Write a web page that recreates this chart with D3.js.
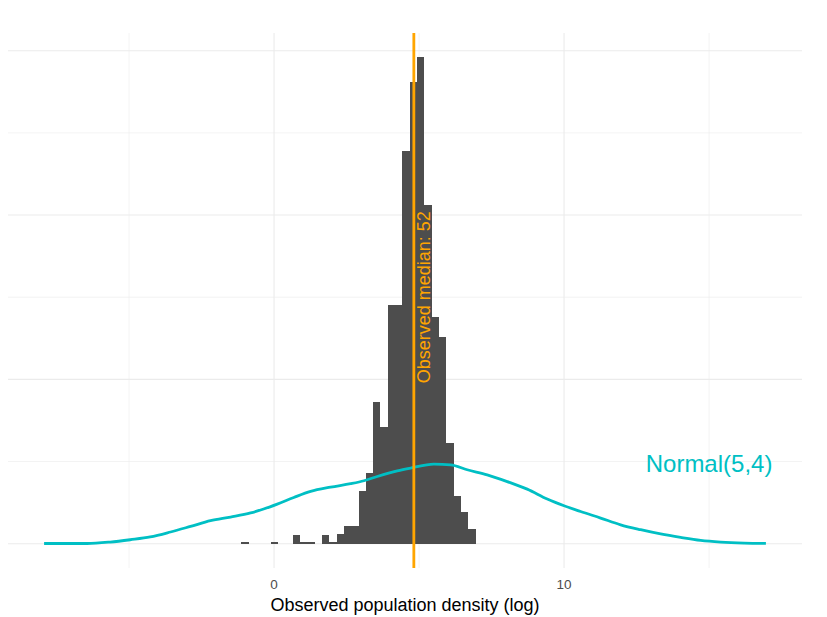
<!DOCTYPE html>
<html>
<head>
<meta charset="utf-8">
<script src="https://cdn.jsdelivr.net/npm/d3@7"></script>
<style>
  html, body { margin: 0; padding: 0; background: #fff; }
  text { font-family: "Liberation Sans", Arial, sans-serif; }
</style>
</head>
<body>
<svg id="chart" width="827" height="617"></svg>
<script>
// ---- data ----
const binStart = -1.125;
const binWidth = 0.2523;
const binCounts = [1, 0, 0, 0, 1, 0, 0, 5, 1, 1, 0, 5, 1, 6, 11, 11,
                   32, 43, 86, 71, 145, 145, 239, 281, 296, 206, 138, 126, 61, 29, 19, 9];
const curveX = [-7.93, -6.45, -5.65, -4.96, -4.27, -3.57, -2.88, -2.19, -1.50, -0.81, -0.36, 0.11,
                0.68, 1.26, 1.95, 2.64, 3.10, 3.56, 4.25, 4.71, 5.51, 6.09, 6.66, 7.35, 8.04,
                8.73, 9.42, 10.0, 10.57, 11.26, 11.95, 12.64, 13.33, 14.02, 14.71, 15.40, 16.21, 16.96];
const curveY = [0.1, 0.1, 1.0, 2.4, 4.1, 7.1, 10.5, 14.0, 16.2, 18.7, 21.1, 24.1,
                28.1, 31.8, 34.4, 36.5, 38.3, 40.9, 44.3, 46.0, 48.4, 48.0, 45.0, 41.9, 37.8,
                33.2, 27.2, 23.1, 19.6, 15.6, 11.5, 8.5, 5.9, 3.8, 2.0, 1.0, 0.4, 0.2];
const medianX = 4.82;
const medianLabel = "Observed median: 52";
const medianLabelY = 150;
const normalLabel = "Normal(5,4)";
const normalLabelX = 15;
const normalLabelY = 50;
const xMajor = [0, 10];
const xMinor = [-5, 5, 15];
const yMajor = [0, 100, 200, 300];
const yMinor = [50, 150, 250];
const xTitle = "Observed population density (log)";

// ---- layout ----
const svg = d3.select("#chart");
const panel = { left: 8, right: 802, top: 33, bottom: 568 };

const bins = binCounts.map((c, i) => ({ x0: binStart + i * binWidth, x1: binStart + (i + 1) * binWidth, count: c }));

const xMin = d3.min([d3.min(curveX), bins[0].x0]);
const xMax = d3.max([d3.max(curveX), bins[bins.length - 1].x1]);
const xPad = (xMax - xMin) * 0.05;
const x = d3.scaleLinear().domain([xMin - xPad, xMax + xPad]).range([panel.left, panel.right]);

const yMax = d3.max(binCounts);
const yPad = yMax * 0.05;
const y = d3.scaleLinear().domain([-yPad, yMax + yPad]).range([panel.bottom, panel.top]);

// grid
const g = svg.append("g");
g.selectAll(".yminor").data(yMinor).join("line")
  .attr("x1", panel.left).attr("x2", panel.right)
  .attr("y1", d => y(d)).attr("y2", d => y(d))
  .attr("stroke", "#ebebeb").attr("stroke-width", 0.6);
g.selectAll(".xminor").data(xMinor).join("line")
  .attr("y1", panel.top).attr("y2", panel.bottom)
  .attr("x1", d => x(d)).attr("x2", d => x(d))
  .attr("stroke", "#ebebeb").attr("stroke-width", 0.6);
g.selectAll(".ymajor").data(yMajor).join("line")
  .attr("x1", panel.left).attr("x2", panel.right)
  .attr("y1", d => y(d)).attr("y2", d => y(d))
  .attr("stroke", "#ebebeb").attr("stroke-width", 1.1);
g.selectAll(".xmajor").data(xMajor).join("line")
  .attr("y1", panel.top).attr("y2", panel.bottom)
  .attr("x1", d => x(d)).attr("x2", d => x(d))
  .attr("stroke", "#ebebeb").attr("stroke-width", 1.1);

// bars
svg.append("g").selectAll("rect").data(bins.filter(b => b.count > 0)).join("rect")
  .attr("x", d => x(d.x0))
  .attr("width", d => x(d.x1) - x(d.x0))
  .attr("y", d => y(d.count))
  .attr("height", d => y(0) - y(d.count))
  .attr("fill", "#4d4d4d")
  .attr("shape-rendering", "crispEdges");

// curve
const pts = curveX.map((v, i) => [v, curveY[i]]);
svg.append("path")
  .attr("d", d3.line().x(d => x(d[0])).y(d => y(d[1])).curve(d3.curveMonotoneX)(pts))
  .attr("fill", "none")
  .attr("stroke", "#00bfc4")
  .attr("stroke-width", 2.8);

// median line
svg.append("line")
  .attr("x1", x(medianX)).attr("x2", x(medianX))
  .attr("y1", panel.top).attr("y2", panel.bottom)
  .attr("stroke", "#ffa500").attr("stroke-width", 2.8);

// median label (rotated)
svg.append("text")
  .attr("transform", `translate(${x(medianX) + 16},${y(medianLabelY)}) rotate(-90)`)
  .attr("text-anchor", "middle")
  .attr("fill", "#ffa500")
  .attr("font-size", 18)
  .text(medianLabel);

// normal label
svg.append("text")
  .attr("x", x(normalLabelX))
  .attr("y", y(normalLabelY) + 1.5)
  .attr("text-anchor", "middle")
  .attr("dominant-baseline", "central")
  .attr("fill", "#00bfc4")
  .attr("font-size", 24)
  .text(normalLabel);

// x tick labels
svg.append("g").selectAll("text").data(xMajor).join("text")
  .attr("x", d => x(d))
  .attr("y", 589)
  .attr("text-anchor", "middle")
  .attr("fill", "#4d4d4d")
  .attr("font-size", 13.5)
  .text(d => d3.format("d")(d));

// x title
svg.append("text")
  .attr("x", (panel.left + panel.right) / 2)
  .attr("y", 611)
  .attr("text-anchor", "middle")
  .attr("fill", "#000")
  .attr("font-size", 18)
  .text(xTitle);
</script>
</body>
</html>
